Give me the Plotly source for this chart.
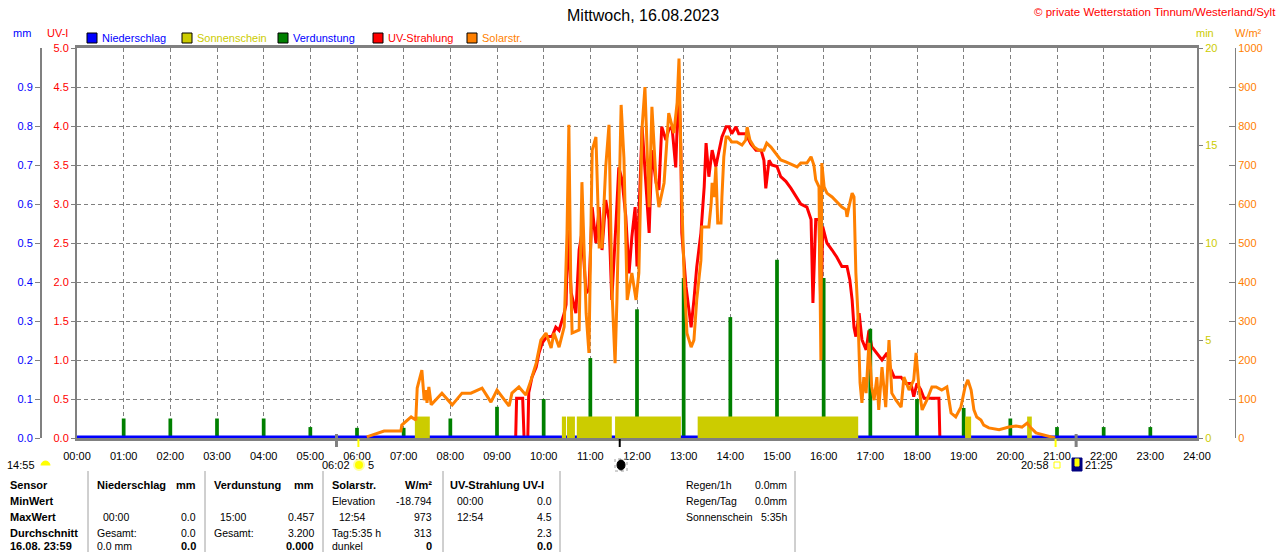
import plotly.graph_objects as go

W, H = 1280, 552

# x axis: hours of the day
hours = list(range(25))
hour_labels = ["%02d:00" % h for h in hours]

# Niederschlag (mm)
rain_t = [0, 24]
rain_mm = [0.0, 0.0]

# Verdunstung (mm), hourly
evap_t = list(range(1, 24))
evap_mm = [0.05, 0.05, 0.05, 0.05, 0.028, 0.026, 0.026, 0.05, 0.08, 0.10,
           0.205, 0.33, 0.41, 0.31, 0.457, 0.41, 0.28, 0.10, 0.077, 0.05,
           0.028, 0.028, 0.028]

# Sonnenschein (min) blocks
sun_start = [7.24, 10.39, 10.50, 10.71, 11.53, 13.30, 19.03, 20.36]
sun_end = [7.56, 10.48, 10.67, 11.46, 12.94, 16.74, 19.16, 20.46]
sun_min = [1.1, 1.1, 1.1, 1.1, 1.1, 1.1, 1.1, 1.1]

# Solarstrahlung (W/m2)
solar_t = [6.21, 6.47, 6.58, 6.94, 6.96, 7.16, 7.26, 7.29, 7.39, 7.44,
           7.48, 7.50, 7.54, 7.59, 7.70, 7.82, 8.04, 8.25, 8.44, 8.68,
           8.87, 9.00, 9.26, 9.32, 9.47, 9.62, 9.73, 9.84, 9.94, 10.05,
           10.16, 10.22, 10.33, 10.44, 10.50, 10.54, 10.58, 10.61, 10.76, 10.82,
           10.91, 10.97, 11.04, 11.12, 11.19, 11.25, 11.33, 11.40, 11.46, 11.53,
           11.57, 11.66, 11.72, 11.79, 11.89, 11.98, 12.04, 12.11, 12.17, 12.26,
           12.32, 12.41, 12.47, 12.58, 12.68, 12.79, 12.86, 12.90, 12.96, 13.01,
           13.07, 13.16, 13.22, 13.28, 13.37, 13.39, 13.48, 13.54, 13.59, 13.61,
           13.65, 13.69, 13.73, 13.80, 13.82, 13.86, 13.91, 13.95, 14.03, 14.14,
           14.25, 14.33, 14.36, 14.42, 14.51, 14.61, 14.72, 14.78, 14.87, 14.98,
           15.08, 15.19, 15.32, 15.43, 15.51, 15.58, 15.64, 15.73, 15.79, 15.83,
           15.90, 15.94, 15.96, 16.01, 16.07, 16.18, 16.28, 16.39, 16.48, 16.50,
           16.54, 16.61, 16.65, 16.69, 16.73, 16.78, 16.82, 16.86, 16.91, 16.97,
           17.03, 17.08, 17.14, 17.18, 17.25, 17.33, 17.40, 17.46, 17.55, 17.66,
           17.72, 17.83, 17.93, 17.98, 18.04, 18.11, 18.21, 18.32, 18.41, 18.53,
           18.64, 18.73, 18.83, 18.94, 19.03, 19.09, 19.16, 19.22, 19.28, 19.37,
           19.43, 19.54, 19.76, 19.97, 20.12, 20.25, 20.36, 20.44, 20.55, 20.80,
           20.96]
solar_w = [3, 13, 18, 18, 33, 54, 46, 128, 174, 97,
           123, 90, 131, 85, 100, 115, 85, 115, 115, 128,
           92, 123, 82, 115, 131, 110, 149, 192, 251, 269,
           231, 269, 233, 285, 525, 803, 400, 269, 277, 656,
           320, 218, 738, 772, 490, 490, 695, 803, 387, 192,
           354, 854, 718, 354, 423, 354, 423, 797, 900, 592,
           849, 654, 592, 654, 833, 782, 860, 973, 610, 413,
           269, 233, 251, 354, 456, 541, 541, 541, 602, 654,
           618, 695, 551, 551, 618, 721, 772, 772, 759, 759,
           751, 764, 797, 764, 746, 738, 738, 756, 746, 730,
           713, 708, 700, 695, 705, 705, 705, 721, 700, 662,
           644, 200, 705, 644, 628, 618, 605, 592, 585, 567,
           592, 628, 618, 423, 328, 141, 90, 156, 115, 244,
           131, 97, 156, 72, 182, 79, 251, 115, 97, 79,
           156, 123, 149, 218, 131, 72, 97, 131, 131, 123,
           131, 64, 54, 79, 131, 149, 123, 72, 54, 46,
           33, 26, 21, 28, 31, 28, 38, 26, 13, 5,
           0]

# UV-Strahlung (UV-I)
uv_t = [9.40, 9.42, 9.55, 9.58, 9.66, 9.68, 9.75, 9.84, 9.90, 9.97,
        10.07, 10.18, 10.26, 10.33, 10.44, 10.48, 10.52, 10.59, 10.69, 10.76,
        10.82, 10.91, 10.97, 11.04, 11.12, 11.19, 11.25, 11.33, 11.40, 11.46,
        11.55, 11.61, 11.68, 11.76, 11.83, 11.89, 11.96, 12.00, 12.11, 12.19,
        12.26, 12.32, 12.41, 12.47, 12.53, 12.62, 12.68, 12.75, 12.83, 12.88,
        12.90, 12.94, 12.96, 13.05, 13.16, 13.22, 13.28, 13.37, 13.44, 13.48,
        13.54, 13.61, 13.69, 13.76, 13.82, 13.91, 13.97, 14.03, 14.12, 14.18,
        14.33, 14.44, 14.55, 14.66, 14.72, 14.76, 14.83, 14.89, 15.00, 15.08,
        15.19, 15.30, 15.41, 15.51, 15.64, 15.73, 15.77, 15.83, 15.90, 15.94,
        15.98, 16.07, 16.18, 16.28, 16.39, 16.50, 16.56, 16.61, 16.65, 16.69,
        16.76, 16.82, 16.91, 16.97, 17.03, 17.14, 17.25, 17.36, 17.42, 17.51,
        17.66, 17.76, 17.87, 17.93, 18.00, 18.08, 18.15, 18.32, 18.47, 18.49]
uv_i = [0, 0.51, 0.51, 0, 0, 0.58, 0.78, 0.91, 1.09, 1.22,
        1.3, 1.3, 1.42, 1.38, 1.6, 1.71, 2.67, 1.86, 1.6, 2.41,
        2.63, 1.86, 1.9, 2.96, 2.5, 2.96, 2.41, 3.05, 2.8, 1.77,
        2.76, 3.47, 3.31, 2.84, 2.11, 2.58, 2.96, 2.2, 3.99, 3.31,
        2.63, 3.69, 3.27, 3.18, 3.99, 3.82, 3.95, 3.99, 3.47, 4.33,
        4.5, 3.69, 2.63, 1.94, 1.42, 1.77, 2.19, 2.63, 3.22, 3.78,
        3.35, 3.69, 3.48, 3.69, 3.86, 3.99, 3.99, 3.9, 3.99, 3.9,
        3.9, 3.77, 3.69, 3.69, 3.56, 3.2, 3.56, 3.5, 3.48, 3.35,
        3.29, 3.2, 3.09, 3.0, 2.96, 2.8, 1.73, 2.8, 2.8, 1.6,
        2.71, 2.5, 2.41, 2.32, 2.2, 2.2, 2.03, 1.77, 1.42, 1.3,
        1.6, 1.26, 1.13, 1.38, 1.17, 1.09, 1.0, 1.09, 0.91, 0.78,
        0.78, 0.7, 0.7, 0.53, 0.7, 0.62, 0.51, 0.51, 0.51, 0]

# day markers under the time axis: dawn, sunrise, noon, sunset, dusk
mark_t = [5.56, 6.03, 11.63, 20.97, 21.41]
mark_col = ["#808080", "#ffff00", "black", "#ffff00", "#808080"]

GRAY = "#808080"
YEL = "#cccc00"
ORA = "#ff8000"
FONT = "Liberation Sans"


def px(x):
    return x / W


def py(y):
    return (H - y) / H


fig = go.Figure()

fig.add_trace(go.Bar(
    x=[(s + e) / 2 for s, e in zip(sun_start, sun_end)],
    width=[e - s for s, e in zip(sun_start, sun_end)],
    y=sun_min, yaxis="y3", marker=dict(color=YEL, line=dict(width=0)),
    showlegend=False, hoverinfo="skip"))
fig.add_trace(go.Scatter(x=solar_t, y=solar_w, yaxis="y4", mode="lines",
                         line=dict(color=ORA, width=3), showlegend=False))
fig.add_trace(go.Scatter(x=uv_t, y=uv_i, yaxis="y", mode="lines",
                         line=dict(color="#ff0000", width=3), showlegend=False))
fig.add_trace(go.Bar(x=evap_t, y=evap_mm, width=0.08, yaxis="y2",
                     marker=dict(color="#008000", line=dict(width=0)),
                     showlegend=False))
fig.add_trace(go.Scatter(x=rain_t, y=rain_mm, yaxis="y2", mode="lines",
                         line=dict(color="#0000ff", width=5), showlegend=False))

ydom = [py(438), py(48)]
grid = dict(showgrid=True, gridcolor=GRAY, griddash="4px,3px", gridwidth=1)

fig.update_layout(
    width=W, height=H,
    margin=dict(l=0, r=0, t=0, b=0, pad=0),
    paper_bgcolor="white", plot_bgcolor="white",
    barmode="overlay",
    font=dict(family=FONT, size=11, color="black"),
    xaxis=dict(domain=[px(77), px(1197)], range=[0, 24], tickvals=hours,
               ticktext=hour_labels, ticks="outside", ticklen=6,
               tickcolor="rgba(0,0,0,0)", showline=True, mirror=True,
               linecolor=GRAY, linewidth=3, zeroline=False, automargin=False,
               layer="below traces", **grid),
    yaxis=dict(domain=ydom, range=[0, 5], tickvals=[i * 0.5 for i in range(11)],
               tickformat=".1f", tickfont=dict(color="#ff0000"),
               ticks="outside", ticklen=4, tickcolor=GRAY, showline=True,
               linecolor=GRAY, linewidth=2, zeroline=False, automargin=False,
               layer="below traces", **grid),
    yaxis2=dict(overlaying="y", anchor="free", position=px(41), side="left",
                range=[0, 1.0], tickvals=[i / 10 for i in range(10)],
                tickformat=".1f", tickfont=dict(color="#0000ff"),
                ticks="outside", ticklen=5, tickcolor=GRAY, showline=True,
                linecolor=GRAY, linewidth=2, showgrid=False, zeroline=False,
                automargin=False),
    yaxis3=dict(overlaying="y", anchor="x", side="right", range=[0, 20],
                tickvals=[0, 5, 10, 15, 20], tickfont=dict(color=YEL),
                ticks="outside", ticklen=4, tickcolor=GRAY, showline=True,
                linecolor=GRAY, linewidth=2, showgrid=False, zeroline=False,
                automargin=False),
    yaxis4=dict(overlaying="y", anchor="free", position=px(1235), side="right",
                range=[0, 1000], dtick=100, tickfont=dict(color=ORA),
                ticks="inside", ticklen=6, tickcolor=GRAY, showline=True,
                linecolor=GRAY, linewidth=1, showgrid=False, zeroline=False,
                automargin=False),
)

ann = []
shapes = []


def txt(x, y, s, color="black", size=11, anchor="left", bold=False):
    if bold:
        s = "<b>%s</b>" % s
    ann.append(dict(x=px(x), y=py(y), xref="paper", yref="paper", text=s,
                    showarrow=False, xanchor=anchor, yanchor="middle",
                    font=dict(family=FONT, size=size, color=color)))


def rect(x0, y0, x1, y1, fill, line="black", lw=1, kind="rect", dash=None):
    ln = dict(color=line, width=lw)
    if dash:
        ln["dash"] = dash
    shapes.append(dict(type=kind, xref="paper", yref="paper", x0=px(x0),
                       x1=px(x1), y0=py(y1), y1=py(y0), fillcolor=fill,
                       line=ln, layer="above"))


# title and copyright
txt(643, 15, "Mittwoch, 16.08.2023", size=16, anchor="center")
txt(1278, 12, "© private Wetterstation Tinnum/Westerland/Sylt",
    color="#ff0000", size=11.5, anchor="right")

# unit labels
txt(22, 33, "mm", color="#0000ff", anchor="center")
txt(57, 33, "UV-I", color="#ff0000", anchor="center")
txt(1205, 33, "min", color=YEL, anchor="center")
txt(1248, 33, "W/m²", color=ORA, anchor="center")

# legend
leg = [(87, "#0000ff", "Niederschlag", "#0000ff"),
       (182, YEL, "Sonnenschein", YEL),
       (278, "#008000", "Verdunstung", "#0000ff"),
       (373, "#ff0000", "UV-Strahlung", "#ff0000"),
       (467, ORA, "Solarstr.", ORA)]
for x0, c, name, tc in leg:
    rect(x0, 33, x0 + 10, 43, c)
    txt(x0 + 13, 38, name, color=tc)

# day markers below the axis
for t, c in zip(mark_t, mark_col):
    top = 434 if c == "#808080" else 439
    shapes.append(dict(type="line", xref="x", yref="paper", x0=t, x1=t,
                       y0=py(447), y1=py(top),
                       line=dict(color=c, width=3 if c == "#808080" else 2)))

# sun / moon info row
IY = 465
txt(37, IY, "14:55", anchor="right")
rect(41, IY - 4, 50, IY + 5, "#ffff00", line="#ffff00", kind="circle")
rect(40, IY + 1, 51, IY + 7, "white", line="white")
txt(352, IY, "06:02", anchor="right")
rect(354, IY - 5, 364, IY + 5, "#ffff00", line="#ffffa0", lw=2, kind="circle")
txt(366, IY, "5")
rect(615, IY - 6, 627, IY + 6, "rgba(0,0,0,0)", line="#a0a0a0", dash="dot")
rect(617, IY - 5, 625, IY + 5, "black", kind="circle")
txt(1051, IY, "20:58", anchor="right")
rect(1054, IY - 3, 1060, IY + 3, "white", line="#ffff00")
rect(1072, IY - 7, 1082, IY + 6, "#000080", line="#000080")
rect(1075, IY - 6, 1079, IY + 1, "#ffff00", line="#ffff00")
txt(1083, IY, "21:25")

# table separators
for x in [88, 205, 323, 443, 560, 795]:
    shapes.append(dict(type="line", xref="paper", yref="paper", x0=px(x),
                       x1=px(x), y0=py(552), y1=py(471),
                       line=dict(color="#a0a0a0", width=1)))

rows = [485, 501, 517, 533, 546]
for y, s in zip(rows, ["Sensor", "MinWert", "MaxWert", "Durchschnitt",
                       "16.08. 23:59"]):
    txt(8, y, s, bold=True)

NS = 10.5
txt(95, rows[0], "Niederschlag", bold=True)
txt(198, rows[0], "mm", bold=True, anchor="right")
txt(101, rows[2], "00:00", size=NS)
txt(198, rows[2], "0.0", size=NS, anchor="right")
txt(95, rows[3], "Gesamt:", size=NS)
txt(198, rows[3], "0.0", size=NS, anchor="right")
txt(95, rows[4], "0.0 mm", size=NS)
txt(198, rows[4], "0.0", bold=True, anchor="right")

txt(212, rows[0], "Verdunstung", bold=True)
txt(316, rows[0], "mm", bold=True, anchor="right")
txt(218, rows[2], "15:00", size=NS)
txt(316, rows[2], "0.457", size=NS, anchor="right")
txt(212, rows[3], "Gesamt:", size=NS)
txt(316, rows[3], "3.200", size=NS, anchor="right")
txt(316, rows[4], "0.000", bold=True, anchor="right")

txt(330, rows[0], "Solarstr.", bold=True)
txt(434, rows[0], "W/m²", bold=True, anchor="right")
txt(330, rows[1], "Elevation", size=NS)
txt(434, rows[1], "-18.794", size=NS, anchor="right")
txt(337, rows[2], "12:54", size=NS)
txt(434, rows[2], "973", size=NS, anchor="right")
txt(330, rows[3], "Tag:5:35 h", size=NS)
txt(434, rows[3], "313", size=NS, anchor="right")
txt(330, rows[4], "dunkel", size=NS)
txt(434, rows[4], "0", bold=True, anchor="right")

txt(448, rows[0], "UV-Strahlung UV-I", bold=True)
txt(455, rows[1], "00:00", size=NS)
txt(554, rows[1], "0.0", size=NS, anchor="right")
txt(455, rows[2], "12:54", size=NS)
txt(554, rows[2], "4.5", size=NS, anchor="right")
txt(554, rows[3], "2.3", size=NS, anchor="right")
txt(554, rows[4], "0.0", bold=True, anchor="right")

txt(684, rows[0], "Regen/1h", size=NS)
txt(789, rows[0], "0.0mm", size=NS, anchor="right")
txt(684, rows[1], "Regen/Tag", size=NS)
txt(789, rows[1], "0.0mm", size=NS, anchor="right")
txt(684, rows[2], "Sonnenschein", size=NS)
txt(789, rows[2], "5:35h", size=NS, anchor="right")

fig.update_layout(annotations=ann, shapes=shapes)

fig.write_html("out.html", config={"displayModeBar": False},
               post_script="document.body.style.margin='0';")
